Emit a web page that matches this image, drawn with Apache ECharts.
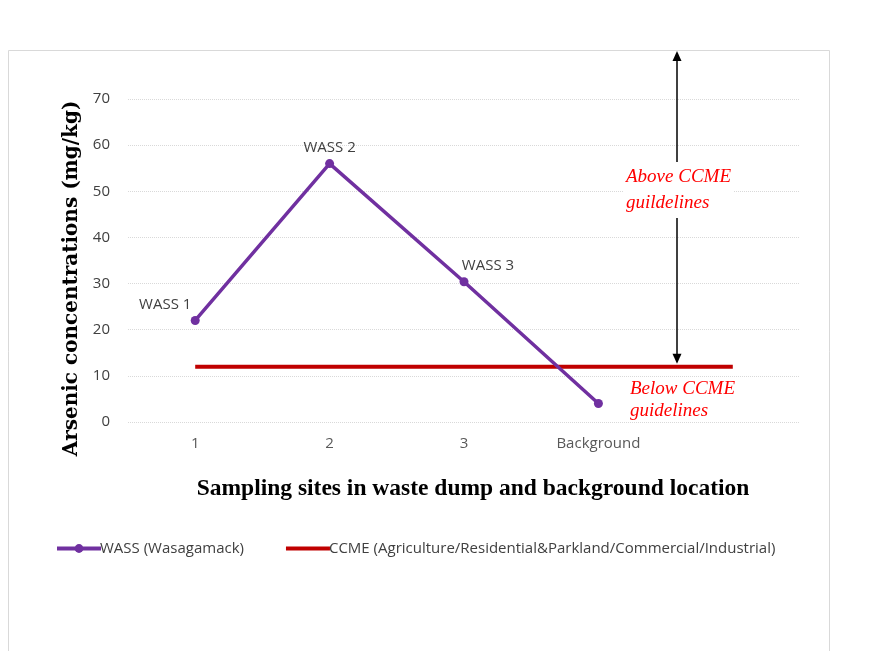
<!DOCTYPE html>
<html>
<head>
<meta charset="utf-8">
<title>Arsenic concentrations</title>
<script src="https://cdn.jsdelivr.net/npm/echarts@6/dist/echarts.min.js"></script>
<style>
  html, body { margin: 0; padding: 0; background: #fff; }
  #chart { width: 882px; height: 651px; }
</style>
</head>
<body>
<div id="chart"></div>
<script>
  // data
  var categories = ['1', '2', '3', 'Background', ''];
  var wassValues = [22, 56, 30.4, 4, null];
  var wassLabels = ['WASS 1', 'WASS 2', 'WASS 3', '', ''];
  var ccmeValues = [12, 12, 12, 12, 12];
  var yTicks = [0, 10, 20, 30, 40, 50, 60, 70];

  var labelOffsets = [[-30, 0], [0, 0], [24, 0], [0, 0], [0, 0]];

  var wassData = wassValues.map(function (v, i) {
    var item = { value: v };
    if (wassLabels[i]) {
      item.label = {
        show: true,
        formatter: wassLabels[i],
        position: 'top',
        distance: 4,
        offset: labelOffsets[i],
        color: '#404040',
        fontSize: 15,
        fontFamily: 'Open Sans'
      };
    }
    return item;
  });

  var option = {
    animation: false,
    backgroundColor: '#fff',
    grid: { left: 128, right: 82, top: 99, bottom: 229 },
    legend: {
      left: 50,
      top: 536,
      itemWidth: 44,
      itemHeight: 11,
      itemGap: 40,
      textStyle: { color: '#404040', fontSize: 15, fontFamily: 'Open Sans', padding: [0, 0, 0, -6] },
      data: [
        { name: 'WASS (Wasagamack)', lineStyle: { width: 4 } },
        { name: 'CCME (Agriculture/Residential&Parkland/Commercial/Industrial)', lineStyle: { width: 4 }, itemStyle: { opacity: 0 } }
      ]
    },
    xAxis: {
      type: 'category',
      data: categories,
      boundaryGap: true,
      name: 'Sampling sites in waste dump and background location',
      nameLocation: 'middle',
      nameGap: 55,
      nameTextStyle: { fontFamily: 'Liberation Serif', fontWeight: 'bold', fontSize: 23.5, color: '#000', padding: [0, 0, 0, 18] },
      axisLine: { show: false },
      axisTick: { show: false },
      axisLabel: { color: '#595959', fontSize: 15, fontFamily: 'Open Sans', margin: 14 },
      splitLine: { show: false }
    },
    yAxis: {
      type: 'value',
      min: yTicks[0],
      max: yTicks[yTicks.length - 1],
      interval: 10,
      name: 'Arsenic concentrations (mg/kg)',
      nameLocation: 'middle',
      nameGap: 42,
      nameTextStyle: { fontFamily: 'DejaVu Serif', fontWeight: 'bold', fontSize: 20, color: '#000', padding: [0, 36, 0, 0] },
      axisLine: { show: false },
      axisTick: { show: false },
      axisLabel: { color: '#404040', fontSize: 15, fontFamily: 'Open Sans', margin: 18 },
      splitLine: { lineStyle: { color: '#d9d9d9', type: 'dotted' } }
    },
    series: [
      {
        name: 'WASS (Wasagamack)',
        type: 'line',
        data: wassData,
        color: '#7030a0',
        symbol: 'circle',
        symbolSize: 9,
        lineStyle: { width: 3.5, color: '#7030a0' },
        itemStyle: { color: '#7030a0' },
        z: 3
      },
      {
        name: 'CCME (Agriculture/Residential&Parkland/Commercial/Industrial)',
        type: 'line',
        data: ccmeValues,
        color: '#c00000',
        symbol: 'none',
        showSymbol: false,
        lineStyle: { width: 4, color: '#c00000' },
        z: 2
      }
    ]
  };

  var chart = echarts.init(document.getElementById('chart'));
  chart.setOption(option);

  // arrow and guideline notes, anchored to the CCME level
  var ccmeY = chart.convertToPixel({ yAxisIndex: 0 }, ccmeValues[0]);
  var arrowX = 677;
  var arrowTop = 51;
  var arrowBottom = ccmeY - 3;
  var noteFont = 'italic 19px "Liberation Serif"';

  chart.setOption({
    graphic: [
      {
        type: 'rect',
        shape: { x: 8.5, y: 50.5, width: 821, height: 620 },
        style: { fill: 'none', stroke: '#d9d9d9', lineWidth: 1 },
        silent: true, z: -1
      },
      {
        type: 'line',
        shape: { x1: arrowX, y1: arrowTop + 8, x2: arrowX, y2: arrowBottom - 8 },
        style: { stroke: '#000', lineWidth: 1.5 },
        z: 10
      },
      {
        type: 'polygon',
        shape: { points: [[arrowX, arrowTop], [arrowX - 4.5, arrowTop + 10], [arrowX + 4.5, arrowTop + 10]] },
        style: { fill: '#000' },
        z: 10
      },
      {
        type: 'polygon',
        shape: { points: [[arrowX, arrowBottom], [arrowX - 4.5, arrowBottom - 10], [arrowX + 4.5, arrowBottom - 10]] },
        style: { fill: '#000' },
        z: 10
      },
      {
        type: 'text',
        left: 624,
        top: 162,
        style: {
          text: 'Above CCME\nguildelines',
          font: noteFont,
          fill: '#ff0000',
          lineHeight: 26,
          backgroundColor: '#fff',
          padding: [2, 2, 2, 2]
        },
        z: 11
      },
      {
        type: 'text',
        left: 630,
        top: 378,
        style: {
          text: 'Below CCME\nguidelines',
          font: noteFont,
          fill: '#ff0000',
          lineHeight: 22
        },
        z: 11
      }
    ]
  });
</script>
</body>
</html>
